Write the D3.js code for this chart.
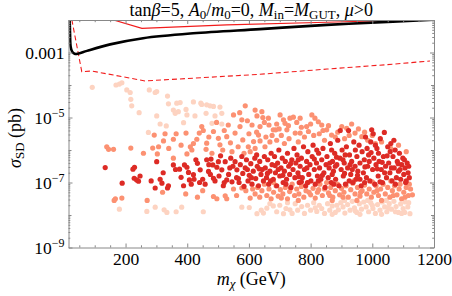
<!DOCTYPE html>
<html>
<head>
<meta charset="utf-8">
<script src="https://cdn.jsdelivr.net/npm/d3@7"></script>
<style>
  body { margin: 0; background: #fff; }
</style>
</head>
<body>
<svg id="chart" width="452" height="296"></svg>
<script>
// mass (GeV) and log10 of sigma_SD (pb) for each coloured set of points
var pinkPts = [
  [92,-4.07],[169,-4.0],[180,-3.97],[188,-3.93],[204,-4.15],[215,-4.23],[217,-4.44],[220,-4.64],[244,-4.85],
  [277,-4.15],[296,-4.23],[301,-4.2],[336,-4.34],[339,-4.58],[301,-4.95],[312,-5.2],[332,-5.26],[274,-5.46],
  [355,-4.77],[366,-4.56],[371,-4.82],[361,-4.87],[377,-4.54],[388,-5.16],[396,-4.75],[399,-4.92],[420,-4.52],
  [425,-4.95],[444,-4.56],[447,-4.6],[463,-4.61],[461,-4.87],[474,-4.64],[485,-4.66],[490,-4.95],[506,-4.68],
  [512,-4.87],[480,-5.18],[512,-5.2],
  [180,-7.82],[269,-7.89],[296,-7.76],[325,-7.84],[334,-7.92],[364,-7.9],[382,-7.76],[452,-7.9],[577,-7.76],
  [601,-7.77],[626,-7.96],[647,-7.94],[658,-7.79],[679,-7.72],[712,-7.96],[733,-7.84],
  [640,-7.85],[668,-7.65],[690,-7.9],[700,-7.7],[720,-7.8],[740,-7.95],[750,-7.65],[758,-7.85],[771,-7.74],
  [780,-7.95],[790,-7.7],[800,-7.85],[810,-7.62],[820,-7.89],[828,-7.7],[836,-7.8],[845,-7.95],[855,-7.65],
  [862,-7.85],[870,-7.72],[880,-7.92],[890,-7.84],[898,-7.62],[905,-7.75],[911,-7.94],[920,-7.68],[928,-7.85],
  [935,-7.58],[942,-7.78],[950,-7.92],[958,-7.65],[965,-7.82],[972,-7.6],[980,-7.75],[988,-7.9],[995,-7.62],
  [1002,-7.8],[1010,-7.95],[1017,-7.68],[1025,-7.85],[1032,-7.6],[1040,-7.75],[1047,-7.9],[1055,-7.65],
  [1062,-7.82],[1070,-7.58],[1077,-7.74],[1085,-7.92],[1092,-7.66],[1100,-7.8],[1107,-7.6],[1115,-7.75],
  [1122,-7.96],[985,-7.55],[1045,-7.55],[910,-7.55],[1075,-7.9],[960,-7.98],[870,-7.98],[1030,-7.98],[1105,-7.92],
  [725,-7.62],[815,-7.78],[885,-7.7],[945,-7.88],[1000,-7.7],[1052,-7.78],[1095,-7.95],[1118,-7.62]
];

var salmonPts = [
  [139,-5.9],[145,-5.98],[161,-5.98],[217,-5.94],[258,-6.1],[288,-5.94],[307,-5.9],[303,-6.12],[293,-5.54],
  [323,-5.72],[328,-5.5],[355,-5.67],[364,-5.5],[355,-6.25],[396,-5.48],[399,-6.12],[410,-5.9],[415,-6.0],
  [431,-5.67],[439,-5.48],[447,-5.28],[452,-5.4],[463,-5.79],[461,-5.98],[485,-5.43],[501,-5.64],[506,-5.84],
  [515,-6.0],[528,-5.59],[533,-5.23],[550,-4.92],[555,-5.48],[571,-5.28],[577,-5.07],[580,-5.69],[584,-6.1],
  [565,-5.9],[540,-5.78],[520,-5.4],[495,-5.15],[470,-5.6],[420,-5.8],[380,-5.85],[340,-5.95],[480,-6.1],[545,-6.05],
  [588,-4.64],[620,-4.77],[626,-4.95],[642,-4.82],[645,-5.0],[610,-5.23],[636,-5.28],[663,-5.02],[665,-5.23],
  [679,-5.38],[687,-5.38],[701,-4.92],[712,-5.07],[717,-5.18],[723,-5.38],[733,-5.02],[744,-4.99],[750,-5.48],
  [766,-5.02],[766,-5.48],[787,-5.28],[793,-5.43],[804,-4.92],[814,-5.02],[825,-5.13],[836,-5.23],[852,-5.38],
  [868,-5.54],[901,-5.28],[917,-5.33],[933,-5.2],[944,-5.48],[966,-5.59],[598,-5.9],[604,-6.05],[615,-5.74],
  [631,-5.54],[636,-5.72],[652,-5.9],[600,-5.5],[655,-5.6],[690,-5.7],[705,-5.55],[730,-5.65],[760,-5.75],
  [780,-5.6],[810,-5.55],[845,-5.7],[880,-5.6],[910,-5.65],[985,-5.7],[1010,-5.8],[1060,-5.95],[690,-5.2],
  [755,-5.15],[840,-5.4],[570,-4.85],[595,-5.1],[625,-5.45],[650,-5.15],[675,-5.55],[698,-5.35],[728,-5.25],
  [770,-5.3],[800,-5.2],[828,-5.5],[858,-5.25],[888,-5.45],[925,-5.55],[955,-5.35],[975,-5.45],[1000,-5.55],
  [1030,-5.75],[1085,-5.85],[1110,-6.05],[620,-5.95],[668,-5.75],[715,-5.8],
  [163,-7.55],[188,-7.48],[167,-7.5],[395,-7.35],[433,-7.45],[485,-7.43],[496,-7.5],[523,-7.41],[528,-7.5],
  [550,-7.2],[577,-7.17],[604,-7.48],[270,-7.55],[320,-7.3],[450,-7.25],[560,-7.4],[590,-7.25],
  [612,-7.2],[620,-7.35],[628,-7.15],[635,-7.45],[642,-7.25],[650,-7.05],[658,-7.4],[665,-7.2],[672,-7.5],
  [680,-7.3],[688,-7.1],[695,-7.42],[702,-7.22],[710,-7.35],[718,-7.15],[725,-7.5],[732,-7.28],[740,-7.05],
  [748,-7.4],[755,-7.2],[762,-7.35],[770,-7.12],[778,-7.45],[785,-7.25],[792,-7.0],[800,-7.38],[808,-7.18],
  [815,-7.48],[822,-7.3],[830,-7.05],[838,-7.4],[845,-7.2],[852,-7.0],[858,-7.32],[865,-7.15],[872,-7.45],
  [880,-7.25],[887,-7.05],[894,-7.38],[900,-7.18],[908,-7.3],[915,-7.1],[922,-7.45],[930,-7.22],[937,-7.02],
  [944,-7.35],[952,-7.15],[960,-7.42],[967,-7.25],[975,-7.08],[982,-7.35],[990,-7.2],[997,-7.45],[1005,-7.3],
  [1012,-7.1],[1020,-7.4],[1027,-7.2],[1035,-7.05],[1042,-7.35],[1050,-7.15],[1057,-7.45],[1065,-7.25],
  [1072,-7.1],[1080,-7.38],[1087,-7.2],[1095,-7.5],[1102,-7.3],[1110,-7.15],[1117,-7.4],[1124,-7.2],
  [870,-7.55],[950,-7.55],[1030,-7.55],[1090,-7.05],[1000,-6.98],[760,-7.55],[680,-7.0],[1120,-7.05],
  [1060,-6.95],[940,-6.95],[1130,-7.38],[705,-7.48],[735,-7.18],[795,-7.3],[826,-7.22],[862,-7.4],[905,-7.45],
  [962,-7.3],[1015,-7.25],[1068,-7.4],[1106,-7.45]
];

var redPts = [
  [134,-6.54],[189,-7.02],[224,-6.59],[229,-6.53],[228,-6.87],[242,-6.96],[247,-6.8],[236,-6.92],
  [296,-7.17],[301,-6.36],[312,-6.9],[318,-7.02],[336,-7.17],[339,-7.1],[283,-6.95],[322,-6.7],
  [355,-6.46],[362,-6.6],[375,-6.59],[380,-6.84],[391,-6.46],[399,-6.53],[404,-6.69],[407,-6.92],[420,-6.76],
  [422,-6.9],[433,-6.41],[442,-6.61],[450,-6.9],[413,-7.05],[388,-7.1],[440,-7.0],[428,-6.3],
  [463,-6.3],[469,-6.66],[477,-6.28],[483,-6.46],[485,-6.87],[490,-6.95],[496,-6.53],[501,-6.36],[508,-6.18],
  [512,-6.61],[517,-7.1],[523,-6.36],[528,-6.92],[534,-6.75],[541,-6.25],[545,-6.98],[548,-6.5],[458,-7.05],
  [475,-6.75],[503,-6.8],[520,-7.0],[538,-6.55],[470,-6.45],
  [555,-6.36],[561,-6.61],[566,-6.88],[572,-6.45],[577,-6.2],[580,-6.72],[584,-7.12],[588,-6.55],[592,-6.3],
  [597,-6.95],[601,-6.78],[606,-6.42],[610,-7.05],[614,-6.65],[619,-6.25],[622,-6.88],[627,-6.5],[631,-7.1],
  [635,-6.35],[639,-6.75],[643,-6.6],[647,-6.95],[650,-6.2],[568,-7.0],[595,-6.6],[625,-6.15],[560,-6.85],
  [653,-6.55],[657,-6.85],[661,-6.3],[664,-7.05],[668,-6.65],[672,-6.1],[675,-6.45],[679,-6.9],[683,-6.2],
  [686,-6.7],[690,-7.1],[693,-6.4],[697,-6.0],[700,-6.8],[704,-6.55],[708,-6.25],[711,-7.0],[715,-6.65],
  [718,-6.35],[722,-6.9],[725,-6.1],[729,-6.5],[732,-6.75],[736,-7.15],[739,-6.3],[743,-6.6],[746,-5.95],
  [749,-6.85],[670,-6.95],[695,-6.6],
  [752,-6.4],[756,-6.15],[759,-6.7],[763,-7.0],[766,-6.5],[770,-6.25],[773,-6.85],[777,-5.9],[780,-6.6],
  [784,-7.1],[787,-6.35],[791,-6.05],[794,-6.75],[798,-6.45],[801,-6.95],[805,-6.2],[808,-5.85],[812,-6.6],
  [815,-7.05],[819,-6.4],[822,-6.8],[826,-6.1],[829,-6.55],[833,-6.9],[836,-6.3],[840,-5.95],[843,-6.7],
  [847,-7.15],[850,-6.45],[760,-6.3],[790,-7.0],[820,-6.0],
  [853,-6.2],[857,-6.85],[860,-6.55],[864,-5.8],[867,-7.0],[871,-6.35],[874,-6.65],[878,-6.1],[881,-6.9],
  [885,-6.45],[888,-5.7],[892,-7.1],[895,-6.25],[896,-5.4],[899,-6.6],[902,-6.0],[906,-6.8],[909,-6.4],
  [913,-7.05],[916,-5.9],[920,-6.55],[923,-5.4],[926,-6.15],[930,-6.75],[933,-6.35],[937,-7.0],[940,-5.75],
  [944,-6.5],[947,-6.9],[950,-6.2],[870,-6.75],[905,-6.3],[935,-6.6],[880,-6.5],
  [953,-6.65],[957,-5.85],[960,-6.4],[964,-7.1],[967,-6.05],[971,-6.7],[974,-6.3],[978,-5.6],[981,-6.85],
  [985,-6.5],[988,-6.15],[992,-6.95],[995,-5.75],[998,-5.38],[1001,-6.6],[1003,-5.5],[1005,-6.25],[1008,-7.05],
  [1012,-6.45],[1015,-5.95],[1019,-6.8],[1022,-6.35],[1026,-5.65],[1029,-6.6],[1033,-7.0],[1036,-6.2],
  [1039,-5.46],[1043,-6.5],[1046,-6.85],[1050,-5.9],[960,-6.9],[990,-6.35],[1020,-6.1],[1040,-6.7],
  [1053,-6.4],[1057,-6.7],[1060,-5.8],[1064,-6.95],[1067,-6.2],[1071,-6.55],[1074,-6.0],[1078,-6.85],
  [1081,-6.35],[1085,-6.65],[1088,-6.1],[1092,-6.9],[1095,-6.45],[1099,-6.25],[1102,-6.75],[1106,-6.55],
  [1110,-6.95],[1113,-6.4],[1116,-6.7],[1120,-6.85],[1070,-5.7],[1090,-6.6],
  [608,-6.85],[633,-6.58],[660,-6.72],[685,-6.48],[710,-6.78],[735,-6.42],[762,-6.82],[788,-6.55],[812,-6.28],
  [838,-6.78],[862,-6.4],[884,-6.22],[910,-6.72],[928,-6.45],[952,-6.78],[976,-6.52],[996,-6.08],[1016,-6.58],
  [1032,-6.38],[1048,-6.18],[1062,-6.55],[1084,-6.42],[1104,-6.3],[1118,-6.5],[720,-7.05],[770,-6.98],
  [825,-6.95],[875,-7.05],[925,-6.95],[975,-7.0],[1025,-6.98],[1075,-7.05],[1108,-7.0],[868,-6.0],[912,-6.15],
  [945,-6.0],[1010,-5.85],[1058,-6.05],[983,-5.95]
];

// limit curves: [mass, log10 sigma]
var blackLimit = [[18,-1.6],[20,-2.4],[22,-2.82],[27,-2.98],[35,-3.04],[45,-3.04],[75,-2.95],[150,-2.75],
  [257,-2.56],[419,-2.41],[636,-2.28],[853,-2.15],[1067,-2.05],[1200,-1.99]];
var redSolidLimit = [[118,-1.88],[161,-2.0],[253,-2.255],[528,-2.15],[852,-2.07],[1122,-2.0],[1200,-1.98]];
var redDashLimit = [[22,-1.75],[26,-2.0],[58,-3.59],[91,-3.57],[263,-3.875],[419,-3.79],[636,-3.67],
  [853,-3.51],[1067,-3.36],[1187,-3.26]];

var xMajor = [200, 400, 600, 800, 1000, 1200];
var yLabelled = [-3, -5, -7, -9];
var yDecades = [-2, -3, -4, -5, -6, -7, -8, -9];

var serif = "'Liberation Serif', 'Times New Roman', serif";

var svg = d3.select("#chart"),
    margin = {top: 20, left: 68.5, bottom: 48.5, right: 18},
    width = +svg.attr("width"),
    height = +svg.attr("height");

var x = d3.scaleLinear().domain([15, 1200]).range([margin.left, width - margin.right]);
var y = d3.scaleLog().domain([1e-9, 1e-2]).range([height - margin.bottom, margin.top]);

svg.append("clipPath").attr("id", "plotclip").append("rect")
  .attr("x", margin.left).attr("y", margin.top)
  .attr("width", x.range()[1] - margin.left).attr("height", y.range()[0] - margin.top);

var plot = svg.append("g").attr("clip-path", "url(#plotclip)");

// points
var sets = [[pinkPts, "#fdd3c1"], [salmonPts, "#fc9172"], [redPts, "#dd2b25"]];
sets.forEach(function(s){
  plot.append("g").selectAll("circle").data(s[0]).enter().append("circle")
    .attr("cx", d => x(d[0]))
    .attr("cy", d => y(Math.pow(10, d[1])))
    .attr("r", 2.6)
    .attr("fill", s[1]);
});

var line = d3.line().x(d => x(d[0])).y(d => y(Math.pow(10, d[1])));

plot.append("path").datum(redDashLimit).attr("d", line)
  .attr("fill", "none").attr("stroke", "#f21c1c").attr("stroke-width", 1.1)
  .attr("stroke-dasharray", "5,3");
plot.append("path").datum(redSolidLimit).attr("d", line)
  .attr("fill", "none").attr("stroke", "#f21c1c").attr("stroke-width", 1.2);
plot.append("path").datum(blackLimit).attr("d", line.curve(d3.curveCatmullRom))
  .attr("fill", "none").attr("stroke", "#000").attr("stroke-width", 2.6);

// frame + ticks
var axisColor = "#888";
var minorX = d3.range(50, 1200, 50).filter(v => v % 200 != 0);
var minorY = [];
yDecades.forEach(function(e){
  if (e < -2) for (var k = 2; k <= 9; k++) minorY.push(k * Math.pow(10, e));
});
var unlabelled = yDecades.filter(e => yLabelled.indexOf(e) < 0).map(e => Math.pow(10, e));

function styleAxis(g){
  g.select(".domain").attr("stroke", axisColor);
  g.selectAll(".tick line").attr("stroke", axisColor);
}

var xb = y.range()[0], xt = margin.top, yl = margin.left, yr = x.range()[1];

svg.append("g").attr("transform", `translate(0,${xb})`)
  .call(d3.axisBottom(x).tickValues(xMajor).tickSizeInner(-4).tickSizeOuter(0).tickPadding(5)
    .tickFormat(d3.format("d")))
  .call(styleAxis)
  .selectAll("text").attr("fill", "#000").style("font-family", serif).style("font-size", "17.5px");
svg.append("g").attr("transform", `translate(0,${xb})`)
  .call(d3.axisBottom(x).tickValues(minorX).tickSizeInner(-2.2).tickSizeOuter(0).tickFormat(""))
  .call(styleAxis).select(".domain").remove();
svg.append("g").attr("transform", `translate(0,${xt})`)
  .call(d3.axisTop(x).tickValues(xMajor).tickSizeInner(-4).tickSizeOuter(0).tickFormat(""))
  .call(styleAxis);
svg.append("g").attr("transform", `translate(0,${xt})`)
  .call(d3.axisTop(x).tickValues(minorX).tickSizeInner(-2.2).tickSizeOuter(0).tickFormat(""))
  .call(styleAxis).select(".domain").remove();

var yLeft = svg.append("g").attr("transform", `translate(${yl},0)`)
  .call(d3.axisLeft(y).tickValues(yLabelled.map(e => Math.pow(10, e))).tickSizeInner(-4).tickSizeOuter(0).tickPadding(4)
    .tickFormat(""))
  .call(styleAxis);
yLeft.selectAll(".tick text").each(function(d){
  var t = d3.select(this).attr("fill", "#000").style("font-family", serif).style("font-size", "17.5px");
  var e = Math.round(Math.log10(d));
  if (e == -3) t.text("0.001");
  else {
    t.append("tspan").text("10");
    t.append("tspan").style("font-size", "12px").attr("dy", -6.5).text("\u2212" + (-e));
  }
});
[[yl, -1], [yr, 1]].forEach(function(side){
  var ax = side[1] < 0 ? d3.axisLeft(y) : d3.axisRight(y);
  svg.append("g").attr("transform", `translate(${side[0]},0)`)
    .call(ax.tickValues(unlabelled).tickSizeInner(-3).tickSizeOuter(0).tickFormat(""))
    .call(styleAxis).select(".domain").remove();
  svg.append("g").attr("transform", `translate(${side[0]},0)`)
    .call(ax.tickValues(minorY).tickSizeInner(-1.8).tickSizeOuter(0).tickFormat(""))
    .call(styleAxis).select(".domain").remove();
});
svg.append("g").attr("transform", `translate(${yr},0)`)
  .call(d3.axisRight(y).tickValues(yLabelled.map(e => Math.pow(10, e))).tickSizeInner(-4).tickSizeOuter(0).tickFormat(""))
  .call(styleAxis);

// rich text helper: segments of [text, style]
function richText(sel, segs, size){
  sel.style("font-family", serif).style("font-size", size + "px");
  segs.forEach(function(s){
    var ts = sel.append("tspan").text(s[0]);
    if (s[1] == "i") ts.style("font-style", "italic");
    if (s[1] == "sub") ts.style("font-size", (size * 0.72) + "px").attr("baseline-shift", "-22%");
    if (s[1] == "subi") ts.style("font-size", (size * 0.72) + "px").attr("baseline-shift", "-22%").style("font-style", "italic");
  });
}

var title = svg.append("text").attr("x", (margin.left + yr) / 2).attr("y", 16)
  .attr("text-anchor", "middle");
richText(title, [["tan","r"],["\u03b2","i"],["=5, ","r"],["A","i"],["0","sub"],["/","r"],["m","i"],["0","sub"],
  ["=0, ","r"],["M","i"],["in","sub"],["=","r"],["M","i"],["GUT","sub"],[", ","r"],["\u03bc","i"],[">0","r"]], 18);

var xl = svg.append("text").attr("x", (margin.left + yr) / 2).attr("y", 285)
  .attr("text-anchor", "middle");
richText(xl, [["m","i"],["\u03c7","subi"],[" (GeV)","r"]], 18);

var ylab = svg.append("text").attr("transform", `translate(21,138) rotate(-90)`)
  .attr("text-anchor", "middle");
richText(ylab, [["\u03c3","i"],["SD","sub"],[" (pb)","r"]], 18);
</script>
</body>
</html>
